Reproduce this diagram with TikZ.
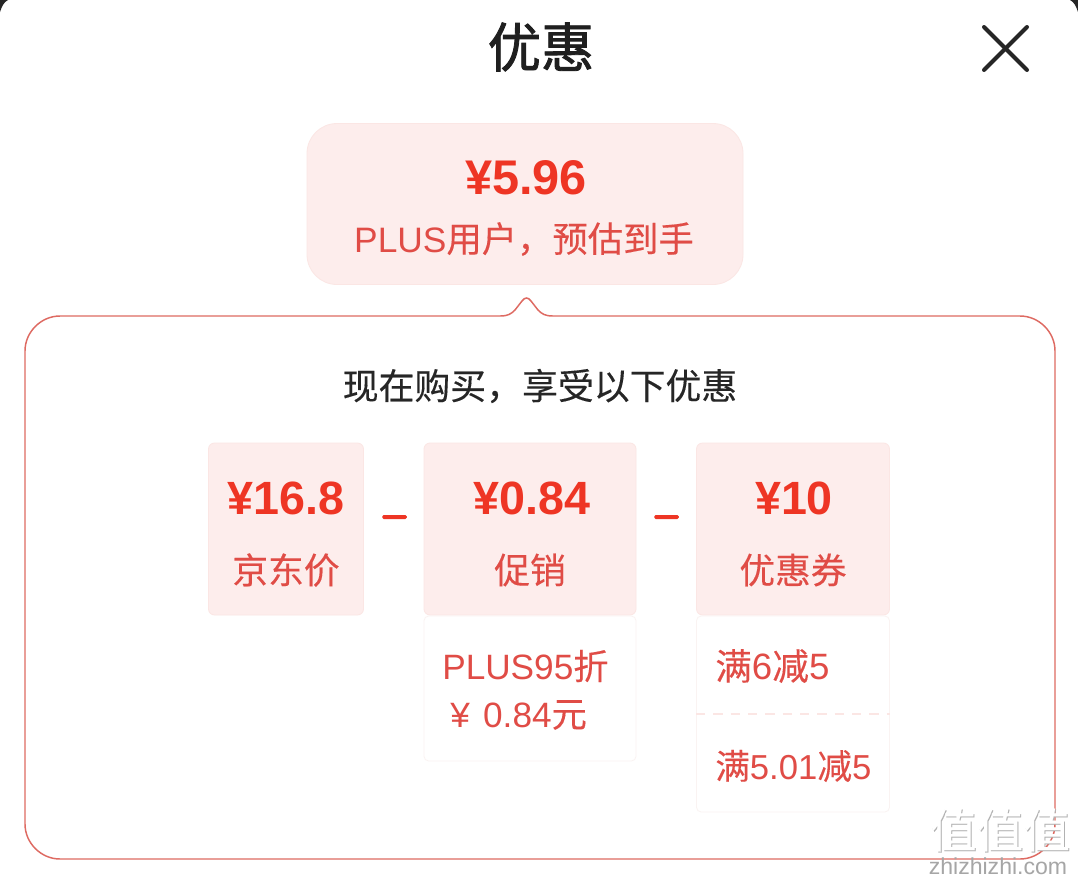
\documentclass[tikz,border=0pt]{standalone}
\usepackage{fontspec}
\setmainfont{Liberation Sans}
\newfontfamily\cjk[FakeBold=0.25]{Noto Sans CJK SC}
\newfontfamily\cjkt[FakeBold=1.6]{Noto Sans CJK SC}
\newfontfamily\lat{Liberation Sans}
\definecolor{pk}{HTML}{FDEDEC}
\definecolor{pkb}{HTML}{FBE6E4}
\definecolor{rd}{HTML}{EE3524}
\definecolor{rt}{HTML}{E04C46}
\definecolor{ol}{HTML}{DE6A62}
\definecolor{wb}{HTML}{FAF3F2}
\newcommand{\La}[1]{{\lat #1}}
\tikzset{
 pinkbox/.style={fill=pk,draw=pkb,line width=0.6pt,rounded corners=4.5pt},
 whitebox/.style={fill=white,draw=wb,line width=0.6pt,rounded corners=3.5pt},
 price/.style={text=rd,font=\fontsize{35}{35}\selectfont\bfseries\lat,inner sep=0pt,anchor=center},
 lbl/.style={text=rt,font=\fontsize{26.8}{26.8}\selectfont\cjk,inner sep=0pt,anchor=center},
 sub/.style={text=rt,font=\fontsize{26.4}{26.4}\selectfont\cjk,inner sep=0pt,anchor=west},
 minus/.style={fill=rd,draw=none,minimum width=24.5*0.75pt,minimum height=4*0.75pt,inner sep=0pt,rounded corners=1pt}
}
\begin{document}
\begin{tikzpicture}[x=0.75pt,y=-0.75pt]
\useasboundingbox (0,0) rectangle (1078,885);
\fill[white] (0,0) rectangle (1078,885);
% top corners
\fill[black!85] (0,0) -- (8,0) .. controls (4,2) and (2,6) .. (0,12) -- cycle;
\fill[black!85] (1078,0) -- (1070,0) .. controls (1074,2) and (1076,6) .. (1078,12) -- cycle;
% title
\node[inner sep=0pt,font=\fontsize{40}{40}\selectfont\cjkt,text=black!88] (title) at (541,47) {优惠};
\coordinate (xa) at (984,27); \coordinate (xb) at (1027,70);
\coordinate (xc) at (1027,27); \coordinate (xd) at (984,70);
\draw[line width=3pt,black!85,line cap=round] (xa) -- (xb);
\draw[line width=3pt,black!85,line cap=round] (xc) -- (xd);
% top bubble
\node[pinkbox,rounded corners=22.5pt,minimum width=436*0.75pt,minimum height=161*0.75pt,inner sep=0pt] (bubble) at (525,204) {};
\node[price,font=\fontsize{36.5}{36.5}\selectfont\bfseries\lat] (p0) at (526,178) {¥5.96};
\node[lbl,font=\fontsize{26.5}{26.5}\selectfont\cjk] (l0) at (524,239) {\La{PLUS}用户，预估到手};
% outline
\draw[ol,line width=1.1pt,fill=white]
 (60,316) -- (500,316) .. controls (508,316) and (511,314) .. (515,310)
 -- (522,301) .. controls (525,297) and (528,297) .. (531,301)
 -- (538,310) .. controls (542,314) and (545,316) .. (553,316)
 -- (1020,316) .. controls (1039,316) and (1055,332) .. (1055,351)
 -- (1055,824) .. controls (1055,843) and (1039,859) .. (1020,859)
 -- (60,859) .. controls (41,859) and (25,843) .. (25,824)
 -- (25,351) .. controls (25,332) and (41,316) .. (60,316) -- cycle;
\node[inner sep=0pt,font=\fontsize{26.9}{26.9}\selectfont\cjk,text=black!85] (head) at (540,386) {现在购买，享受以下优惠};
% boxes
\node[pinkbox,minimum width=155*0.75pt,minimum height=172*0.75pt,inner sep=0pt] (b1) at (286,529) {};
\node[pinkbox,minimum width=212*0.75pt,minimum height=172*0.75pt,inner sep=0pt] (b2) at (530,529) {};
\node[pinkbox,minimum width=193*0.75pt,minimum height=172*0.75pt,inner sep=0pt] (b3) at (793,529) {};
\node[price] (p1) at (286,498) {¥16.8};
\node[price] (p2) at (532,498) {¥0.84};
\node[price] (p3) at (794,498) {¥10};
\node[lbl] (l1) at (286,570) {京东价};
\node[lbl] (l2) at (530,570) {促销};
\node[lbl] (l3) at (793,570) {优惠券};
\node[minus] (m1) at (394.5,517) {};
\node[minus] (m2) at (666.5,517) {};
% sub boxes
\node[whitebox,minimum width=212*0.75pt,minimum height=145*0.75pt,inner sep=0pt] (s2) at (530,688.5) {};
\node[whitebox,minimum width=193*0.75pt,minimum height=196*0.75pt,inner sep=0pt] (s3) at (793,714) {};
\node[sub] (t1) at (442,666) {\La{PLUS95}折};
\node[sub] (t2) at (450,715) {\La{¥\hspace{10pt}0.84}元};
\node[sub,font=\fontsize{27.5}{27.5}\selectfont\cjk] (t3) at (715,666) {满\La{6}减\La{5}};
\node[sub,font=\fontsize{26}{26}\selectfont\cjk] (t4) at (715,766) {满\La{5.01}减\La{5}};
\draw[pkb,line width=1pt,dash pattern=on 7pt off 6pt] (s3.west |- 0,714) -- (s3.east |- 0,714);
% watermark
\node[inner sep=0pt,font=\fontsize{35}{35}\selectfont\cjk,text=black!30] (wmb) at (1001,831) {值值值};
\node[inner sep=0pt,font=\fontsize{35}{35}\selectfont\cjk,text=white] (wm) at (1000,830) {值值值};
\node[inner sep=0pt,font=\fontsize{17.3}{17.3}\selectfont\lat,text=black!35] (wm2) at (998,866) {zhizhizhi.com};
\end{tikzpicture}
\end{document}
